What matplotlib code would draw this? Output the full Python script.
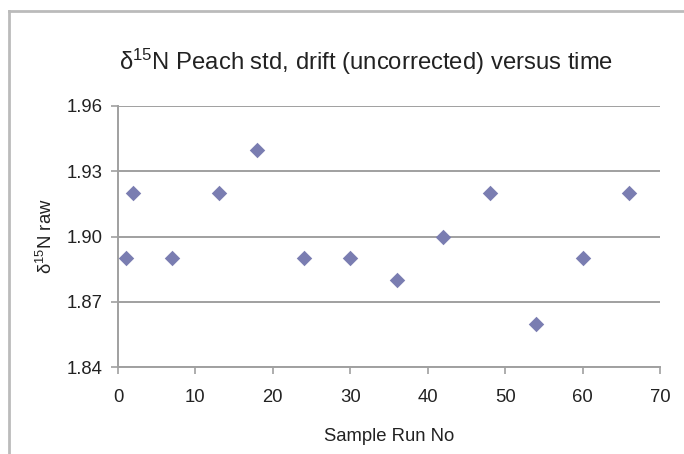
import matplotlib
matplotlib.use("Agg")
import matplotlib.pyplot as plt
from matplotlib.lines import Line2D

plt.rcParams['font.family'] = ['Liberation Sans', 'DejaVu Sans']
plt.rcParams['mathtext.fontset'] = 'custom'
plt.rcParams['mathtext.rm'] = 'Liberation Sans'
plt.rcParams['mathtext.default'] = 'regular'

# data
run_no = [1, 2, 7, 13, 18, 24, 30, 36, 42, 48, 54, 60, 66]
d15n_raw = [1.89, 1.92, 1.89, 1.92, 1.94, 1.89, 1.89, 1.88, 1.90, 1.92, 1.86, 1.89, 1.92]
y_ticks = [1.84, 1.87, 1.90, 1.93, 1.96]
x_ticks = [0, 10, 20, 30, 40, 50, 60, 70]

text_col = '#222222'
grid_col = '#a0a0a0'

fig = plt.figure(figsize=(6.84, 4.54), dpi=100)
ax = fig.add_axes([118 / 684, 1 - 367 / 454, (660 - 118) / 684, (367 - 106) / 454])

ax.scatter(run_no, d15n_raw, marker='D', s=62, color='#7a7db1', zorder=3, linewidths=0)

ax.set_xlim(0, 70)
ax.set_ylim(1.84, 1.96)
ax.set_xticks(x_ticks)
ax.set_yticks(y_ticks)
ax.set_yticklabels([f'{v:.2f}' for v in y_ticks])
ax.yaxis.grid(True, color=grid_col, linewidth=1.4)
ax.set_axisbelow(True)

for side in ['top', 'right']:
    ax.spines[side].set_visible(False)
for side in ['left', 'bottom']:
    ax.spines[side].set_color(grid_col)
    ax.spines[side].set_linewidth(1.4)

ax.tick_params(axis='both', direction='out', length=5, width=1.2, color=grid_col,
               labelsize=13.3, labelcolor=text_col)
ax.tick_params(axis='x', pad=11)
ax.tick_params(axis='y', pad=6)

ax.set_xlabel('Sample Run No', fontsize=13.3, color=text_col, labelpad=16)
ax.set_ylabel(r'δ$^{15}$N raw', fontsize=13.3, color=text_col, labelpad=8)
fig.text(0.535, 1 - 62 / 454, r'δ$^{15}$N Peach std, drift (uncorrected) versus time',
         fontsize=17.2, color=text_col, ha='center', va='center')

# outer chart frame (left and top edges only visible)
fig.add_artist(Line2D([9 / 684, 9 / 684], [0, 1 - 11 / 454], transform=fig.transFigure,
                      color='#bbbbbb', linewidth=2))
fig.add_artist(Line2D([9 / 684, 1], [1 - 11 / 454, 1 - 11 / 454], transform=fig.transFigure,
                      color='#bbbbbb', linewidth=2))

fig.savefig('out.png', dpi=100)
